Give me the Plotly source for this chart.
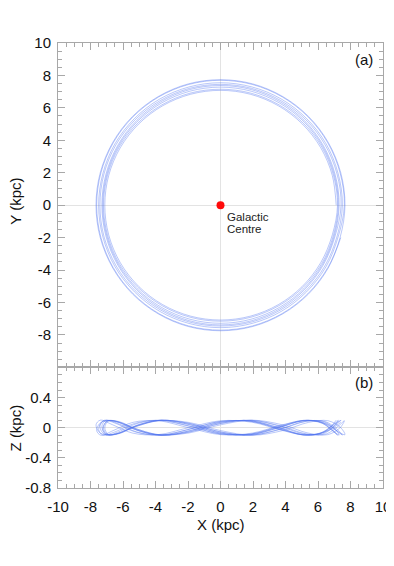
"""
Orbit of a disc star: face-on (X-Y) and edge-on (X-Z) projections.
"""
import plotly.graph_objects as go
from plotly.subplots import make_subplots

# ── Orbit samples, one list per lap (kpc), spiralling slowly outwards ─────────
LAP_X = [
    [7.12, 6.88, 6.17, 5.03, 3.56, 1.84, 0, -1.84, -3.56, -5.03, -6.17, -6.88,
     -7.12, -6.88, -6.17, -5.03, -3.56, -1.84, 0, 1.84, 3.56, 5.03, 6.17, 6.88],
    [7.20, 6.95, 6.24, 5.09, 3.60, 1.86, 0, -1.86, -3.60, -5.09, -6.24, -6.95,
     -7.20, -6.95, -6.24, -5.09, -3.60, -1.86, 0, 1.86, 3.60, 5.09, 6.24, 6.95],
    [7.25, 7.00, 6.28, 5.13, 3.63, 1.88, 0, -1.88, -3.63, -5.13, -6.28, -7.00,
     -7.25, -7.00, -6.28, -5.13, -3.63, -1.88, 0, 1.88, 3.63, 5.13, 6.28, 7.00],
    [7.30, 7.05, 6.32, 5.16, 3.65, 1.89, 0, -1.89, -3.65, -5.16, -6.32, -7.05,
     -7.30, -7.05, -6.32, -5.16, -3.65, -1.89, 0, 1.89, 3.65, 5.16, 6.32, 7.05],
    [7.42, 7.17, 6.43, 5.25, 3.71, 1.92, 0, -1.92, -3.71, -5.25, -6.43, -7.17,
     -7.42, -7.17, -6.43, -5.25, -3.71, -1.92, 0, 1.92, 3.71, 5.25, 6.43, 7.17],
    [7.50, 7.24, 6.50, 5.30, 3.75, 1.94, 0, -1.94, -3.75, -5.30, -6.50, -7.24,
     -7.50, -7.24, -6.50, -5.30, -3.75, -1.94, 0, 1.94, 3.75, 5.30, 6.50, 7.24],
    [7.62, 7.36, 6.60, 5.39, 3.81, 1.97, 0, -1.97, -3.81, -5.39, -6.60, -7.36,
     -7.62, -7.36, -6.60, -5.39, -3.81, -1.97, 0, 1.97, 3.81, 5.39, 6.60, 7.36],
    [7.66, 7.40, 6.63, 5.42, 3.83, 1.98, 0, -1.98, -3.83, -5.42, -6.63, -7.40,
     -7.66, -7.40, -6.63, -5.42, -3.83, -1.98, 0, 1.98, 3.83, 5.42, 6.63, 7.40],
]
LAP_Y = [
    [0, 1.83, 3.54, 5.01, 6.13, 6.84, 7.08, 6.84, 6.13, 5.01, 3.54, 1.83,
     0, -1.83, -3.54, -5.01, -6.13, -6.84, -7.08, -6.84, -6.13, -5.01, -3.54, -1.83],
    [0, 1.85, 3.58, 5.06, 6.19, 6.91, 7.15, 6.91, 6.19, 5.06, 3.58, 1.85,
     0, -1.85, -3.58, -5.06, -6.19, -6.91, -7.15, -6.91, -6.19, -5.06, -3.58, -1.85],
    [0, 1.88, 3.64, 5.15, 6.30, 7.03, 7.28, 7.03, 6.30, 5.15, 3.64, 1.88,
     0, -1.88, -3.64, -5.15, -6.30, -7.03, -7.28, -7.03, -6.30, -5.15, -3.64, -1.88],
    [0, 1.91, 3.69, 5.22, 6.39, 7.13, 7.38, 7.13, 6.39, 5.22, 3.69, 1.91,
     0, -1.91, -3.69, -5.22, -6.39, -7.13, -7.38, -7.13, -6.39, -5.22, -3.69, -1.91],
    [0, 1.93, 3.73, 5.27, 6.45, 7.20, 7.45, 7.20, 6.45, 5.27, 3.73, 1.93,
     0, -1.93, -3.73, -5.27, -6.45, -7.20, -7.45, -7.20, -6.45, -5.27, -3.73, -1.93],
    [0, 1.95, 3.78, 5.34, 6.54, 7.29, 7.55, 7.29, 6.54, 5.34, 3.78, 1.95,
     0, -1.95, -3.78, -5.34, -6.54, -7.29, -7.55, -7.29, -6.54, -5.34, -3.78, -1.95],
    [0, 1.99, 3.85, 5.44, 6.67, 7.44, 7.70, 7.44, 6.67, 5.44, 3.85, 1.99,
     0, -1.99, -3.85, -5.44, -6.67, -7.44, -7.70, -7.44, -6.67, -5.44, -3.85, -1.99],
    [0, 2.00, 3.87, 5.47, 6.70, 7.48, 7.74, 7.48, 6.70, 5.47, 3.87, 2.00,
     0, -2.00, -3.87, -5.47, -6.70, -7.48, -7.74, -7.48, -6.70, -5.47, -3.87, -2.00],
]
LAP_Z = [
    [.100, .038, -.071, -.092, 0, .092, .071, -.038, -.100, -.038, .071, .092,
     0, -.092, -.071, .038, .100, .038, -.071, -.092, 0, .092, .071, -.038],
    [-.100, -.038, .071, .092, 0, -.092, -.071, .038, .100, .038, -.071, -.092,
     0, .092, .071, -.038, -.100, -.038, .071, .092, 0, -.092, -.071, .038],
    [.098, .020, -.083, -.083, .020, .098, .056, -.056, -.098, -.020, .083, .083,
     -.020, -.098, -.056, .056, .098, .020, -.083, -.083, .020, .098, .056, -.056],
    [-.098, -.020, .083, .083, -.020, -.098, -.056, .056, .098, .020, -.083, -.083,
     .020, .098, .056, -.056, -.098, -.020, .083, .083, -.020, -.098, -.056, .056],
    [.098, .056, -.056, -.098, -.020, .083, .083, -.020, -.098, -.056, .056, .098,
     .020, -.083, -.083, .020, .098, .056, -.056, -.098, -.020, .083, .083, -.020],
    [-.098, -.056, .056, .098, .020, -.083, -.083, .020, .098, .056, -.056, -.098,
     -.020, .083, .083, -.020, -.098, -.056, .056, .098, .020, -.083, -.083, .020],
    [.092, 0, -.092, -.071, .038, .100, .038, -.071, -.092, 0, .092, .071,
     -.038, -.100, -.038, .071, .092, 0, -.092, -.071, .038, .100, .038, -.071],
    [-.092, 0, .092, .071, -.038, -.100, -.038, .071, .092, 0, -.092, -.071,
     .038, .100, .038, -.071, -.092, 0, .092, .071, -.038, -.100, -.038, .071],
]

# ── Axis ticks ────────────────────────────────────────────────────────────────
X_TICKS = [-10, -8, -6, -4, -2, 0, 2, 4, 6, 8, 10]
X_LABELS = ["-10", "-8", "-6", "-4", "-2", "0", "2", "4", "6", "8", "10"]
Y_TICKS = [-8, -6, -4, -2, 0, 2, 4, 6, 8, 10]
Y_LABELS = ["-8", "-6", "-4", "-2", "0", "2", "4", "6", "8", "10"]
Z_TICKS = [-0.8, -0.4, 0, 0.4]
Z_LABELS = ["-0.8", "-0.4", "0", "0.4"]

FONT = "Liberation Sans, Arial, sans-serif"
FRAME = "#a8a8a8"
ORBIT = dict(color="rgba(80,115,240,0.72)", width=0.55, shape="spline")

orbit_x = [v for lap in LAP_X for v in lap]
orbit_y = [v for lap in LAP_Y for v in lap]
orbit_z = [v for lap in LAP_Z for v in lap]

fig = make_subplots(rows=2, cols=1, row_heights=[0.729, 0.271], vertical_spacing=0)

# ── (a) face-on ───────────────────────────────────────────────────────────────
fig.add_trace(go.Scatter(x=orbit_x, y=orbit_y, mode="lines", line=ORBIT,
                         hoverinfo="skip"), row=1, col=1)
fig.add_trace(go.Scatter(x=[0], y=[0], mode="markers",
                         marker=dict(color="#ff0a0a", size=8)), row=1, col=1)

# ── (b) edge-on ───────────────────────────────────────────────────────────────
fig.add_trace(go.Scatter(x=orbit_x, y=orbit_z, mode="lines", line=ORBIT,
                         hoverinfo="skip"), row=2, col=1)

axis_common = dict(
    automargin=False,
    showgrid=False, zeroline=True, zerolinecolor="#e3e3e3", zerolinewidth=1,
    showline=True, linecolor=FRAME, linewidth=1, mirror="allticks",
    ticks="inside", ticklen=7, tickcolor=FRAME, tickwidth=1,
    tickfont=dict(family=FONT, size=15, color="#111"),
)
fig.update_xaxes(range=[-10, 10], tickmode="array", tickvals=X_TICKS,
                 ticktext=X_LABELS,
                 minor=dict(tickmode="linear", tick0=0, dtick=0.5, ticks="inside",
                            ticklen=4, tickcolor=FRAME),
                 **axis_common)
fig.update_xaxes(showticklabels=False, row=1, col=1)
fig.update_xaxes(ticklabelstandoff=5, row=2, col=1)
fig.update_yaxes(range=[-10, 10], tickmode="array", tickvals=Y_TICKS,
                 ticktext=Y_LABELS,
                 minor=dict(tickmode="linear", tick0=0, dtick=0.5, ticks="inside",
                            ticklen=4, tickcolor=FRAME),
                 row=1, col=1, **axis_common)
fig.update_yaxes(range=[-0.8, 0.8], tickmode="array", tickvals=Z_TICKS,
                 ticktext=Z_LABELS,
                 minor=dict(tickmode="linear", tick0=0, dtick=0.1, ticks="inside",
                            ticklen=4, tickcolor=FRAME),
                 row=2, col=1, **axis_common)
fig.update_yaxes(ticklabelstandoff=3)

txt = dict(family=FONT, color="#111")
mid = dict(xanchor="center", yanchor="middle", showarrow=False)
annotations = [
    dict(text="Y (kpc)", xref="paper", yref="paper", x=-0.13, y=0.645,
         textangle=-90, font=dict(size=15, **txt), **mid),
    dict(text="Z (kpc)", xref="paper", yref="paper", x=-0.13, y=0.1355,
         textangle=-90, font=dict(size=15, **txt), **mid),
    dict(text="X (kpc)", xref="paper", yref="paper", x=0.5, y=-0.083,
         font=dict(size=15, **txt), **mid),
    dict(text="(a)", xref="paper", yref="paper", x=0.975, y=0.964,
         xanchor="right", yanchor="middle", showarrow=False,
         font=dict(size=15, **txt)),
    dict(text="(b)", xref="paper", yref="paper", x=0.975, y=0.236,
         xanchor="right", yanchor="middle", showarrow=False,
         font=dict(size=15, **txt)),
    dict(text="Galactic", xref="x", yref="y", x=0.25, y=-0.72, xanchor="left",
         yanchor="middle", font=dict(size=11.5, family=FONT, color="#222"),
         showarrow=False),
    dict(text="Centre", xref="x", yref="y", x=0.25, y=-1.48, xanchor="left",
         yanchor="middle", font=dict(size=11.5, family=FONT, color="#222"),
         showarrow=False),
]

# the page adds an 8 px body margin; keep the figure inside the window
fig.update_layout(
    template="none",
    width=386, height=558,
    margin=dict(l=50, r=11, t=35, b=78, autoexpand=False),
    paper_bgcolor="white", plot_bgcolor="white",
    showlegend=False,
    annotations=annotations,
)

fig.write_html("out.html")
